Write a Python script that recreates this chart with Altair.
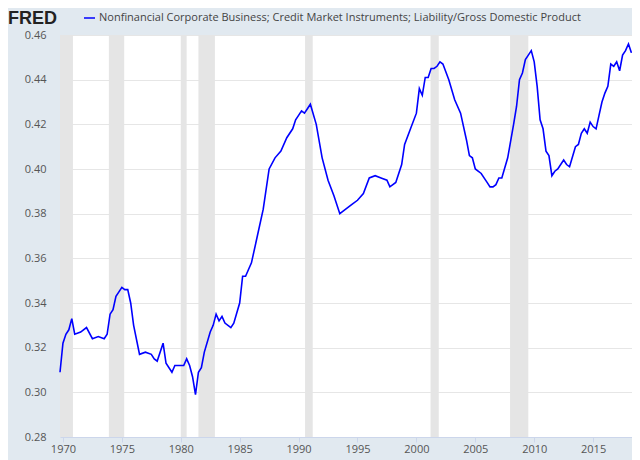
import altair as alt
import pandas as pd

years = [1969.75,1970.0,1970.25,1970.5,1970.75,1971.0,1971.5,1972.0,1972.5,1973.0,1973.5,1973.75,1974.0,1974.25,1974.5,1974.75,1975.0,1975.25,1975.5,1975.75,1976.0,1976.5,1977.0,1977.5,1977.75,1978.0,1978.5,1978.75,1979.25,1979.5,1980.0,1980.25,1980.5,1980.75,1981.0,1981.25,1981.5,1981.75,1982.0,1982.5,1982.75,1983.0,1983.25,1983.5,1983.75,1984.25,1984.5,1985.0,1985.25,1985.5,1985.75,1986.0,1986.5,1987.0,1987.5,1988.0,1988.5,1989.0,1989.5,1989.75,1990.0,1990.25,1990.5,1990.75,1991.0,1991.5,1992.0,1992.5,1993.0,1993.5,1994.0,1994.5,1995.0,1995.5,1996.0,1996.5,1997.0,1997.5,1997.75,1998.25,1998.75,1999.0,1999.5,2000.0,2000.25,2000.5,2000.75,2001.0,2001.25,2001.5,2001.75,2002.0,2002.25,2002.75,2003.25,2003.75,2004.25,2004.5,2004.75,2005.0,2005.5,2006.0,2006.25,2006.5,2006.75,2007.0,2007.25,2007.75,2008.25,2008.5,2008.75,2009.0,2009.25,2009.5,2009.75,2010.0,2010.25,2010.5,2010.75,2011.0,2011.25,2011.5,2011.75,2012.0,2012.5,2012.75,2013.0,2013.5,2013.75,2014.0,2014.25,2014.5,2014.75,2015.0,2015.25,2015.5,2015.75,2016.0,2016.25,2016.5,2016.75,2017.0,2017.25,2017.5,2017.75,2018.0,2018.25]
values = [0.309,0.322,0.326,0.328,0.333,0.326,0.327,0.329,0.324,0.325,0.324,0.326,0.335,0.337,0.343,0.345,0.347,0.346,0.346,0.340,0.330,0.317,0.318,0.317,0.315,0.314,0.322,0.313,0.309,0.312,0.312,0.312,0.315,0.312,0.307,0.299,0.309,0.311,0.318,0.327,0.330,0.335,0.332,0.334,0.331,0.329,0.331,0.340,0.352,0.352,0.355,0.358,0.370,0.382,0.400,0.405,0.408,0.414,0.418,0.422,0.424,0.426,0.425,0.427,0.429,0.420,0.405,0.395,0.388,0.380,0.382,0.384,0.386,0.389,0.396,0.397,0.396,0.395,0.392,0.394,0.402,0.411,0.418,0.425,0.436,0.433,0.441,0.441,0.445,0.445,0.446,0.448,0.447,0.440,0.431,0.425,0.413,0.406,0.405,0.400,0.398,0.394,0.392,0.392,0.393,0.396,0.396,0.405,0.420,0.428,0.440,0.443,0.449,0.451,0.453,0.448,0.437,0.422,0.418,0.408,0.406,0.397,0.399,0.400,0.404,0.402,0.401,0.410,0.411,0.416,0.418,0.416,0.421,0.419,0.418,0.424,0.430,0.434,0.437,0.447,0.446,0.448,0.444,0.451,0.453,0.456,0.452]

rec_start = [1969.75, 1973.9, 1980.0, 1981.5, 1990.55, 2001.2, 2007.95]
rec_end = [1970.85, 1975.2, 1980.5, 1982.9, 1991.2, 2001.9, 2009.5]

series_name = "Nonfinancial Corporate Business; Credit Market Instruments; Liability/Gross Domestic Product"

df = pd.DataFrame({"year": years, "value": values})
rec = pd.DataFrame({"s": rec_start, "e": rec_end})
one = pd.DataFrame({"a": [0]})

xs = alt.Scale(domain=[1969.75, 2018.3], nice=False, zero=False)
ys = alt.Scale(domain=[0.28, 0.46], nice=False, zero=False)

recess = alt.Chart(rec).mark_rect(color="#e5e5e5").encode(
    x=alt.X("s:Q", scale=xs), x2="e:Q",
    y=alt.value(0), y2=alt.value(402))

line = alt.Chart(df).mark_line(color="#0000ff", strokeWidth=1.6).encode(
    x=alt.X("year:Q", scale=xs, title=None,
            axis=alt.Axis(values=list(range(1970, 2020, 5)), format="d", grid=False,
                          labelColor="#555", labelFont="Open Sans", labelFontSize=11,
                          domainColor="#ccd6eb", tickColor="#ccd6eb", tickSize=5, labelPadding=1)),
    y=alt.Y("value:Q", scale=ys, title=None,
            axis=alt.Axis(values=[0.28,0.30,0.32,0.34,0.36,0.38,0.40,0.42,0.44,0.46], format=".2f",
                          gridColor="#e6e6e6", domain=False, ticks=False, labelPadding=14,
                          labelColor="#555", labelFont="Open Sans", labelFontSize=11)))

fred = alt.Chart(one).mark_text(text="FRED", font="Arial", fontWeight="bold", fontSize=18,
                                color="#222", align="left", baseline="middle").encode(
    x=alt.value(-52), y=alt.value(-16))
leg = alt.Chart(one).mark_rule(color="#0000ff", strokeWidth=1.5).encode(
    x=alt.value(24), x2=alt.value(35), y=alt.value(-17))
legt = alt.Chart(one).mark_text(text=series_name, font="Open Sans", fontSize=11, color="#444",
                               align="left", baseline="middle").encode(
    x=alt.value(39), y=alt.value(-17))

chart = alt.layer(recess, line, fred, leg, legt).properties(
    width=572, height=402, background="#e1e9f0",
    padding={"left": 52, "top": 27, "right": 0, "bottom": 24},
    autosize=alt.AutoSizeParams(type="none")
).configure_view(fill="white", stroke=None)

chart.save("out.html", embed_options={"renderer": "svg", "actions": False})
